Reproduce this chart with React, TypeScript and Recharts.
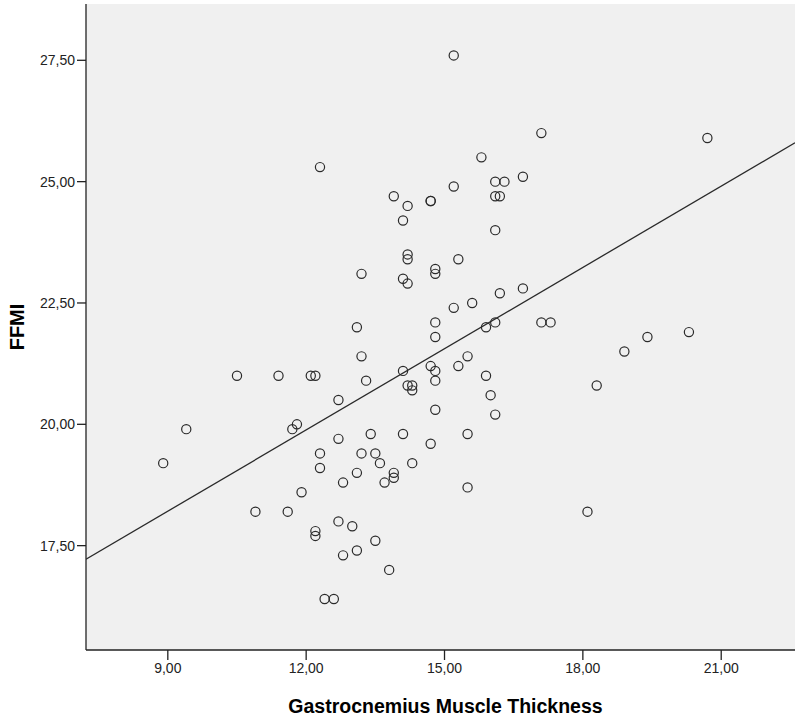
import React from 'react';
import { ScatterChart, Scatter, XAxis, YAxis, CartesianGrid } from 'recharts';

const thickness = [
  15.2, 17.1, 20.7, 15.8, 15.2, 16.1, 16.3, 16.7, 16.1, 16.2,
  16.1, 15.3, 16.2, 16.7, 15.6, 15.2, 15.9, 16.1, 17.1, 17.3,
  20.3, 19.4, 18.9, 15.5, 15.3, 15.9, 18.3, 16.0, 16.1, 15.5,
  15.5, 18.1, 12.3, 13.9, 14.2, 14.7, 14.7, 14.1, 14.2, 14.2,
  13.2, 14.1, 14.2, 14.8, 14.8, 13.1, 14.8, 14.8, 13.2, 10.5,
  11.4, 12.1, 12.2, 13.3, 14.1, 14.7, 14.8, 14.8, 14.2, 14.3,
  14.3, 12.7, 14.8, 11.8, 11.7, 12.7, 13.4, 14.1, 14.7, 12.3,
  13.2, 13.5, 13.6, 14.3, 12.3, 13.1, 13.9, 13.9, 12.8, 13.7,
  11.9, 10.9, 11.6, 12.7, 13.0, 12.2, 12.2, 13.5, 12.8, 13.1,
  13.8, 12.4, 12.6, 8.9, 9.4,
];

const ffmi = [
  27.6, 26.0, 25.9, 25.5, 24.9, 25.0, 25.0, 25.1, 24.7, 24.7,
  24.0, 23.4, 22.7, 22.8, 22.5, 22.4, 22.0, 22.1, 22.1, 22.1,
  21.9, 21.8, 21.5, 21.4, 21.2, 21.0, 20.8, 20.6, 20.2, 19.8,
  18.7, 18.2, 25.3, 24.7, 24.5, 24.6, 24.6, 24.2, 23.5, 23.4,
  23.1, 23.0, 22.9, 23.2, 23.1, 22.0, 22.1, 21.8, 21.4, 21.0,
  21.0, 21.0, 21.0, 20.9, 21.1, 21.2, 21.1, 20.9, 20.8, 20.8,
  20.7, 20.5, 20.3, 20.0, 19.9, 19.7, 19.8, 19.8, 19.6, 19.4,
  19.4, 19.4, 19.2, 19.2, 19.1, 19.0, 19.0, 18.9, 18.8, 18.8,
  18.6, 18.2, 18.2, 18.0, 17.9, 17.8, 17.7, 17.6, 17.3, 17.4,
  17.0, 16.4, 16.4, 19.2, 19.9,
];

const fitX = [7.226, 22.6];
const fitY = [17.22, 25.8];

const xTicks = [9, 12, 15, 18, 21];
const yTicks = [17.5, 20, 22.5, 25, 27.5];

const xDomain: [number, number] = [7.226, 22.6];
const yDomain: [number, number] = [15.35, 28.66];

const points = thickness.map((x, i) => ({ x, y: ffmi[i] }));
const fitData = fitX.map((x, i) => ({ x, y: fitY[i] }));

const fmt = (v: number) => v.toFixed(2).replace('.', ',');

const FONT = '"Liberation Sans", Arial, sans-serif';

const Circle = (props: any) => {
  const { cx, cy } = props;
  if (cx == null || cy == null) return <g />;
  return <circle cx={cx} cy={cy} r={4.6} fill="none" stroke="#2a2a2a" strokeWidth={1.2} />;
};

const NoShape = () => <g />;

const YLabel = (props: any) => {
  const vb = props.viewBox || {};
  const cy = (vb.y ?? 0) + (vb.height ?? 0) / 2;
  const x = 24;
  return (
    <text
      x={x}
      y={cy}
      transform={`rotate(-90, ${x}, ${cy})`}
      textAnchor="middle"
      fontFamily={FONT}
      fontWeight="bold"
      fontSize={20}
      fill="#000"
    >
      FFMI
    </text>
  );
};

export default function App() {
  return (
    <div style={{ position: 'absolute', left: 0, top: 0, background: '#fff' }}>
      <ScatterChart
        width={795}
        height={724}
        margin={{ top: 4, right: 0, bottom: 0, left: 0 }}
      >
        <CartesianGrid horizontal={false} vertical={false} fill="#f0f0f0" xAxisId="x" yAxisId="y" />
        <XAxis
          xAxisId="x"
          type="number"
          dataKey="x"
          domain={xDomain}
          allowDataOverflow
          ticks={xTicks}
          tickFormatter={fmt}
          height={74}
          tickSize={10}
          tickMargin={3}
          axisLine={{ stroke: '#222', strokeWidth: 1.3 }}
          tickLine={{ stroke: '#222', strokeWidth: 1.3 }}
          tick={{ fill: '#222', fontSize: 14, fontFamily: FONT }}
          label={{
            value: 'Gastrocnemius Muscle Thickness',
            position: 'insideBottom',
            offset: 11,
            dx: 5,
            style: { fontFamily: FONT, fontWeight: 'bold', fontSize: 19.5, fill: '#000' },
          }}
        />
        <XAxis
          xAxisId="top"
          orientation="top"
          type="number"
          domain={xDomain}
          allowDataOverflow
          height={0}
          tick={false}
          tickLine={false}
          axisLine={{ stroke: '#8a8a8a', strokeWidth: 2 }}
        />
        <YAxis
          yAxisId="y"
          type="number"
          dataKey="y"
          domain={yDomain}
          allowDataOverflow
          ticks={yTicks}
          tickFormatter={fmt}
          width={86}
          tickSize={9}
          tickMargin={2}
          axisLine={{ stroke: '#222', strokeWidth: 1.3 }}
          tickLine={{ stroke: '#222', strokeWidth: 1.3 }}
          tick={{ fill: '#222', fontSize: 14, fontFamily: FONT }}
          label={<YLabel />}
        />
        <Scatter
          xAxisId="x"
          yAxisId="y"
          data={fitData}
          line={{ stroke: '#2a2a2a', strokeWidth: 1.3 }}
          shape={<NoShape />}
          isAnimationActive={false}
        />
        <Scatter
          xAxisId="x"
          yAxisId="y"
          data={points}
          shape={<Circle />}
          isAnimationActive={false}
        />
      </ScatterChart>
    </div>
  );
}
